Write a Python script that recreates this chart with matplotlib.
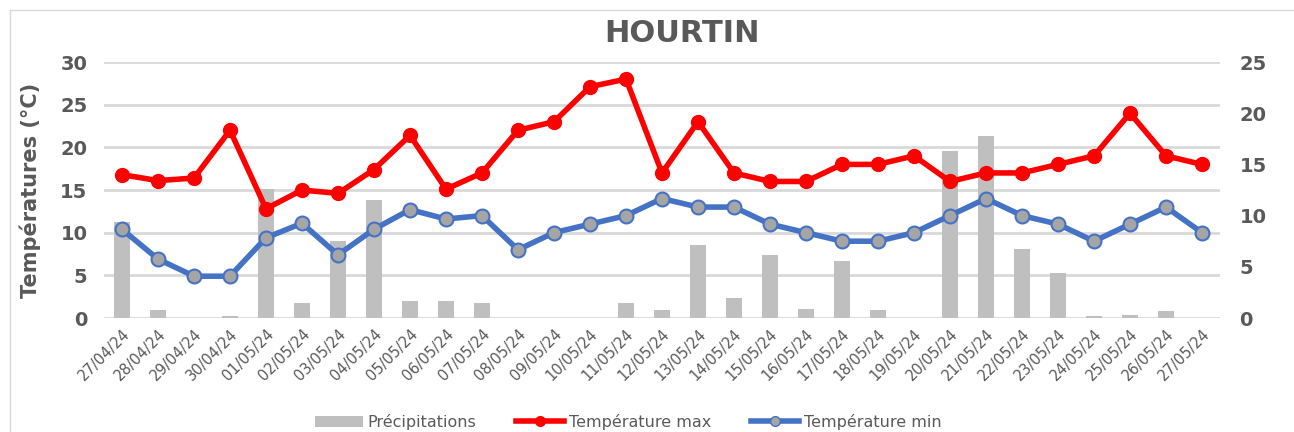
import matplotlib
matplotlib.use("Agg")
import matplotlib.pyplot as plt
from matplotlib.patches import Patch
from matplotlib.lines import Line2D
from matplotlib.transforms import blended_transform_factory

dates = ["27/04/24", "28/04/24", "29/04/24", "30/04/24", "01/05/24", "02/05/24", "03/05/24",
         "04/05/24", "05/05/24", "06/05/24", "07/05/24", "08/05/24", "09/05/24", "10/05/24",
         "11/05/24", "12/05/24", "13/05/24", "14/05/24", "15/05/24", "16/05/24", "17/05/24",
         "18/05/24", "19/05/24", "20/05/24", "21/05/24", "22/05/24", "23/05/24", "24/05/24",
         "25/05/24", "26/05/24", "27/05/24"]
tmax = [16.8, 16.1, 16.4, 22.0, 12.8, 15.0, 14.6, 17.4, 21.4, 15.1, 17.0, 22.0, 23.0, 27.1,
        28.0, 17.0, 23.0, 17.0, 16.0, 16.0, 18.0, 18.0, 19.0, 16.0, 17.0, 17.0, 18.0, 19.0,
        24.0, 19.0, 18.0]
tmin = [10.4, 6.9, 4.9, 4.9, 9.4, 11.1, 7.4, 10.4, 12.7, 11.6, 12.0, 8.0, 10.0, 11.0,
        12.0, 14.0, 13.0, 13.0, 11.0, 10.0, 9.0, 9.0, 10.0, 12.0, 14.0, 12.0, 11.0, 9.0,
        11.0, 13.0, 10.0]
precip = [9.4, 0.8, 0.0, 0.2, 12.6, 1.5, 7.5, 11.5, 1.7, 1.7, 1.5, 0.0, 0.0, 0.0,
          1.5, 0.8, 7.1, 2.0, 6.2, 0.9, 5.6, 0.8, 0.0, 16.3, 17.8, 6.7, 4.4, 0.2,
          0.3, 0.7, 0.0]
temp_ticks = [0, 5, 10, 15, 20, 25, 30]
precip_ticks = [0, 5, 10, 15, 20, 25]

GRAY = "#595959"
plt.rcParams['font.family'] = ['DejaVu Sans']

fig = plt.figure(figsize=(12.94, 4.32), dpi=100)
ax = fig.add_axes([104/1294, 1-318/432, 1116/1294, 256/432])
x = list(range(len(dates)))

# precipitation bars (base axes, behind the lines)
ax.bar(x, precip, width=0.45, color="#bfbfbf", zorder=2)
ax.set_ylim(0, 25)
ax.set_yticks(precip_ticks)
ax.set_xlim(-0.5, len(dates) - 0.5)
ax.set_xticks(x)
ax.set_xticklabels(dates, rotation=45, ha="right", rotation_mode="anchor", fontsize=10.5, color=GRAY)
ax.tick_params(axis="x", length=0, pad=6)
for s in ax.spines.values():
    s.set_visible(False)

ax2 = ax.twinx()
ax.yaxis.tick_right()
ax.yaxis.set_label_position("right")
ax.set_ylabel("Précipitations (mm)", fontsize=14, fontweight="bold", color=GRAY, labelpad=24)
ax.tick_params(axis="y", which="both", left=False, right=False, labelleft=False,
               labelright=True, length=0, labelsize=14, labelcolor=GRAY, pad=14)
for lab in ax.get_yticklabels():
    lab.set_fontweight("bold")

ax2.yaxis.tick_left()
ax2.yaxis.set_label_position("left")
ax2.set_ylim(0, 30)
ax2.set_yticks(temp_ticks)
ax2.tick_params(axis="y", which="both", left=False, right=False, labelleft=True,
                labelright=False, length=0, labelsize=14, labelcolor=GRAY, pad=12)
for lab in ax2.get_yticklabels():
    lab.set_fontweight("bold")
ax2.set_ylabel("Températures (°C)", fontsize=15, fontweight="bold", color=GRAY, labelpad=14)
for s in ax2.spines.values():
    s.set_visible(False)

# gridlines at the temperature ticks, drawn behind bars
grid_tr = blended_transform_factory(ax.transAxes, ax2.transData)
for v in temp_ticks:
    ax.add_line(Line2D([0, 1], [v, v], transform=grid_tr, color="#d9d9d9", linewidth=2, zorder=0))

ax.set_zorder(0)
ax2.set_zorder(1)
ax2.patch.set_visible(False)
ax2.plot(x, tmax, color="#ff0000", linewidth=4, marker="o", markersize=10,
         markerfacecolor="#ff0000", markeredgecolor="#ff0000", zorder=3)
ax2.plot(x, tmin, color="#4472c4", linewidth=4, marker="o", markersize=10,
         markerfacecolor="#a5a5a5", markeredgecolor="#4472c4", markeredgewidth=1.5, zorder=3)

fig.text(682/1294, 1-33/432, "HOURTIN", fontsize=22, fontweight="bold", color=GRAY,
         ha="center", va="center")

handles = [Patch(facecolor="#bfbfbf", edgecolor="none"),
           Line2D([0], [0], color="#ff0000", linewidth=4, marker="o", markersize=7),
           Line2D([0], [0], color="#4472c4", linewidth=4, marker="o", markersize=7,
                  markerfacecolor="#a5a5a5", markeredgecolor="#4472c4")]
fig.legend(handles, ["Précipitations", "Température max", "Température min"],
           loc="center", bbox_to_anchor=(628/1294, 1-422/432), ncol=3, frameon=False,
           fontsize=11.5, labelcolor=GRAY, handlelength=3, handletextpad=0.3, columnspacing=2.5)

# chart border
fig.add_artist(Line2D([10/1294, 10/1294], [0, 1-10/432], color="#d9d9d9", linewidth=1, transform=fig.transFigure))
fig.add_artist(Line2D([10/1294, 1], [1-10/432, 1-10/432], color="#d9d9d9", linewidth=1, transform=fig.transFigure))

fig.savefig("out.png", dpi=100)
